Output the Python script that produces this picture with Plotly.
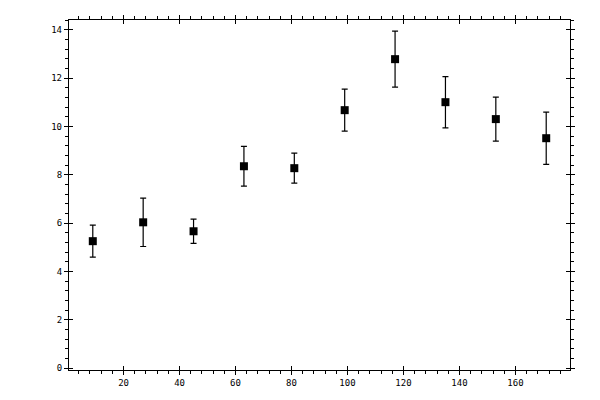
import plotly.graph_objects as go

x_vals = [9, 27, 45, 63, 81, 99, 117, 135, 153, 171]
y_vals = [5.26, 6.04, 5.67, 8.36, 8.28, 10.68, 12.79, 11.01, 10.31, 9.52]
y_errs = [0.66, 1.0, 0.5, 0.82, 0.62, 0.87, 1.16, 1.06, 0.91, 1.08]

x_range = [0.5, 179.5]
y_range = [-0.07, 14.41]

fig = go.Figure()

fig.add_trace(go.Scatter(
    x=x_vals,
    y=y_vals,
    mode='markers',
    marker=dict(symbol='square', size=8, color='black'),
    error_y=dict(type='data', array=y_errs, color='black', thickness=1.2, width=3),
    showlegend=False
))

# main axes: outside ticks + labels
axis_common = dict(
    showgrid=False,
    zeroline=False,
    showline=True,
    linecolor='black',
    linewidth=1.3,
    mirror='ticks',
    ticks='outside',
    ticklen=4,
    tickwidth=1.3,
    tickcolor='black',
    automargin=False,
    tickfont=dict(family='DejaVu Sans Mono', size=9, color='black'),
)

# the page body adds ~8px offset, so margins are shifted to compensate
fig.update_layout(
    width=600,
    height=400,
    margin=dict(l=61, r=38, t=12, b=38, autoexpand=False),
    paper_bgcolor='white',
    plot_bgcolor='white',
    xaxis=dict(
        range=x_range, dtick=20, tick0=0,
        minor=dict(dtick=4, tick0=0, ticks='outside', ticklen=3, tickcolor='black', tickwidth=1.2),
        **axis_common
    ),
    yaxis=dict(
        range=y_range, dtick=2, tick0=0,
        minor=dict(dtick=0.4, tick0=0, ticks='outside', ticklen=3, tickcolor='black', tickwidth=1.2),
        **axis_common
    ),
    # overlay axes so major ticks cross the frame
    xaxis2=dict(
        overlaying='x', range=x_range, dtick=20, tick0=0, showgrid=False, zeroline=False,
        showline=False, showticklabels=False, ticks='inside', ticklen=4, tickwidth=1.3,
        tickcolor='black', mirror='ticks', automargin=False
    ),
    yaxis2=dict(
        overlaying='y', range=y_range, dtick=2, tick0=0, showgrid=False, zeroline=False,
        showline=False, showticklabels=False, ticks='inside', ticklen=4, tickwidth=1.3,
        tickcolor='black', mirror='ticks', automargin=False
    ),
)

# invisible trace to bring the overlay axes to life
fig.add_trace(go.Scatter(x=[x_vals[0]], y=[y_vals[0]], xaxis='x2', yaxis='y2',
                         mode='markers', marker=dict(opacity=0), showlegend=False,
                         hoverinfo='skip'))

fig.write_html("out.html")
